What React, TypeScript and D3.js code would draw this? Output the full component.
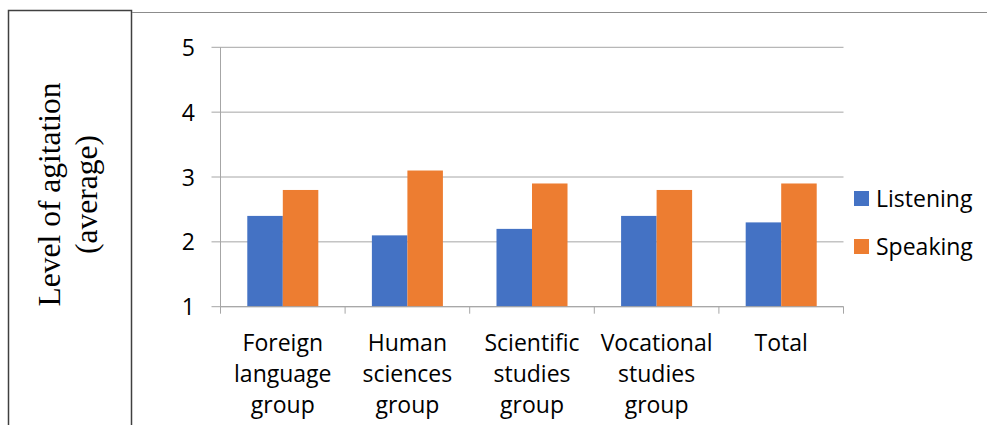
import React from "react";
import * as d3 from "d3";

const categories: string[][] = [
  ["Foreign", "language", "group"],
  ["Human", "sciences", "group"],
  ["Scientific", "studies", "group"],
  ["Vocational", "studies", "group"],
  ["Total"],
];
const listening = [2.4, 2.1, 2.2, 2.4, 2.3];
const speaking = [2.8, 3.1, 2.9, 2.8, 2.9];
const seriesNames = ["Listening", "Speaking"];
const seriesColors = ["#4472C4", "#ED7D31"];
const yTicks = [1, 2, 3, 4, 5];
const yTitle = ["Level of agitation", "(average)"];

export default function App() {
  const W = 987;
  const H = 425;
  const x0 = 220.5;
  const x1 = 843.5;
  const yTop = 47.3;
  const yBot = 306.7;
  const font = "'Open Sans', sans-serif";

  const y = d3.scaleLinear().domain([1, 5]).range([yBot, yTop]);
  const xb = d3
    .scaleBand<number>()
    .domain(d3.range(categories.length))
    .range([x0, x1])
    .paddingInner(0)
    .paddingOuter(0);
  const bw = xb.bandwidth();
  const groupW = bw * 0.57;
  const xs = d3
    .scaleBand<number>()
    .domain([0, 1])
    .range([0, groupW]);
  const series = [listening, speaking];

  return (
    <svg
      width={W}
      height={H}
      style={{ position: "absolute", left: 0, top: 0, background: "#fff" }}
    >
      {/* left title box */}
      <path
        d={`M8.5,${H + 2} V10.5 H131.5 V${H + 2}`}
        fill="none"
        stroke="#404040"
        strokeWidth={1.5}
      />
      <line x1={132} x2={W} y1={12.5} y2={12.5} stroke="#8c8c8c" strokeWidth={1} />
      <g transform="translate(0,194.5) rotate(-90)">
        {yTitle.map((t, i) => (
          <text
            key={i}
            x={0}
            y={i === 0 ? 60 : 97}
            textAnchor="middle"
            fontFamily="'Liberation Serif', 'Times New Roman', serif"
            fontSize={31.5}
            fill="#000"
          >
            {t}
          </text>
        ))}
      </g>

      {/* gridlines */}
      {yTicks.map((t) => (
        <g key={t}>
          <line
            x1={211.5}
            x2={x1}
            y1={y(t)}
            y2={y(t)}
            stroke="#a6a6a6"
            strokeWidth={1}
          />
          <text
            x={195}
            y={y(t) + 8.5}
            textAnchor="end"
            fontFamily={font}
            fontSize={23}
            fill="#000"
          >
            {t}
          </text>
        </g>
      ))}
      {/* y axis line */}
      <line x1={x0} x2={x0} y1={yTop} y2={yBot} stroke="#a6a6a6" strokeWidth={1} />

      {/* bars */}
      {series.map((vals, s) =>
        vals.map((v, i) => {
          const bx = (xb(i) as number) + (bw - groupW) / 2 + (xs(s) as number);
          return (
            <rect
              key={`${s}-${i}`}
              x={bx}
              y={y(v)}
              width={xs.bandwidth()}
              height={yBot - y(v)}
              fill={seriesColors[s]}
            />
          );
        })
      )}

      {/* x axis */}
      <line x1={x0} x2={x1} y1={yBot} y2={yBot} stroke="#a6a6a6" strokeWidth={1} />
      {d3.range(categories.length + 1).map((i) => {
        const tx = x0 + i * bw;
        return (
          <line
            key={i}
            x1={tx}
            x2={tx}
            y1={yBot}
            y2={yBot + 7}
            stroke="#a6a6a6"
            strokeWidth={1}
          />
        );
      })}
      {categories.map((lines, i) => (
        <text
          key={i}
          textAnchor="middle"
          fontFamily={font}
          fontSize={23}
          fill="#000"
        >
          {lines.map((l, j) => (
            <tspan key={j} x={(xb(i) as number) + bw / 2} y={350.5 + j * 31.3}>
              {l}
            </tspan>
          ))}
        </text>
      ))}

      {/* legend */}
      {seriesNames.map((n, i) => (
        <g key={n}>
          <rect x={854} y={191 + i * 48} width={15} height={15} fill={seriesColors[i]} />
          <text
            x={876}
            y={207 + i * 48}
            fontFamily={font}
            fontSize={23}
            fill="#000"
          >
            {n}
          </text>
        </g>
      ))}
    </svg>
  );
}
